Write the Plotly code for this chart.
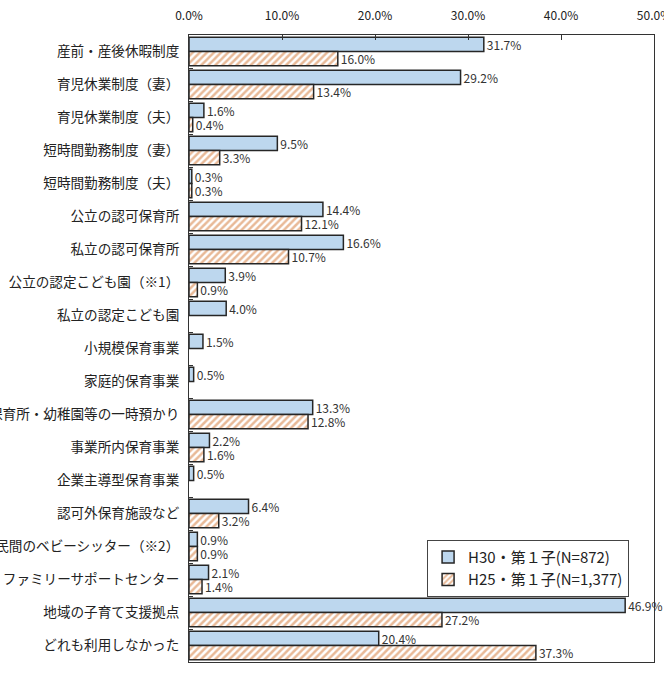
import plotly.graph_objects as go

categories = [
    "産前・産後休暇制度", "育児休業制度（妻）", "育児休業制度（夫）", "短時間勤務制度（妻）",
    "短時間勤務制度（夫）", "公立の認可保育所", "私立の認可保育所", "公立の認定こども園（※1）",
    "私立の認定こども園", "小規模保育事業", "家庭的保育事業", "保育所・幼稚園等の一時預かり",
    "事業所内保育事業", "企業主導型保育事業", "認可外保育施設など", "民間のベビーシッター（※2）",
    "ファミリーサポートセンター", "地域の子育て支援拠点", "どれも利用しなかった",
]
h30 = [31.7, 29.2, 1.6, 9.5, 0.3, 14.4, 16.6, 3.9, 4.0, 1.5, 0.5, 13.3, 2.2, 0.5, 6.4, 0.9, 2.1, 46.9, 20.4]
h25 = [16.0, 13.4, 0.4, 3.3, 0.3, 12.1, 10.7, 0.9, None, None, None, 12.8, 1.6, None, 3.2, 0.9, 1.4, 27.2, 37.3]
x_ticks = [0, 10, 20, 30, 40, 50]
x_tick_labels = ["0.0%", "10.0%", "20.0%", "30.0%", "40.0%", "50.0%"]
series_names = ["H30・第１子(N=872)", "H25・第１子(N=1,377)"]

FONT = "Noto Sans CJK JP"

def fmt(vals):
    return [None if v is None else f"{v:.1f}%" for v in vals]

fig = go.Figure()
fig.add_trace(go.Bar(
    y=categories, x=h30, orientation="h", name=series_names[0],
    marker=dict(color="#bdd7ee", line=dict(color="#262626", width=1.5)),
    text=fmt(h30), textposition="outside", cliponaxis=False, constraintext="none",
    textfont=dict(size=12, color="#333333", family=FONT),
))
fig.add_trace(go.Bar(
    y=categories, x=h25, orientation="h", name=series_names[1],
    marker=dict(color="white", line=dict(color="#262626", width=1.5),
                pattern=dict(shape="/", fgcolor="#d2732f", bgcolor="white", size=5, solidity=0.5)),
    text=fmt(h25), textposition="outside", cliponaxis=False, constraintext="none",
    textfont=dict(size=12, color="#333333", family=FONT),
))

fig.update_layout(
    width=664, height=693,
    margin=dict(l=189, r=10, t=35, b=31, autoexpand=False),
    paper_bgcolor="white", plot_bgcolor="white",
    barmode="group", bargap=0.14, bargroupgap=0.0,
    font=dict(family=FONT, size=13, color="#222222"),
    showlegend=True,
    legend=dict(
        x=0.512, y=0.195, xanchor="left", yanchor="top",
        bgcolor="white", bordercolor="#444444", borderwidth=1,
        font=dict(size=15, family=FONT, color="#222222"),
        itemwidth=30, tracegroupgap=0,
    ),
)
fig.update_xaxes(
    side="top", range=[0, 50], tickvals=x_ticks, ticktext=x_tick_labels,
    ticks="inside", ticklen=5, tickcolor="#333333",
    showgrid=False, zeroline=False,
    showline=True, mirror=True, linecolor="#333333", linewidth=1,
    tickfont=dict(size=12, family=FONT, color="#222222"),
    ticklabelstandoff=9, ticklabeloverflow="allow",
    automargin=False,
)
fig.update_yaxes(
    autorange="reversed", ticks="inside", tickson="boundaries", ticklen=4, tickcolor="#333333",
    showgrid=False, showline=True, mirror=True, linecolor="#333333", linewidth=1,
    tickfont=dict(size=13.6, family=FONT, color="#222222"),
    ticklabelstandoff=6, ticklabeloverflow="allow",
    automargin=False,
)

fig.write_html("out.html")
